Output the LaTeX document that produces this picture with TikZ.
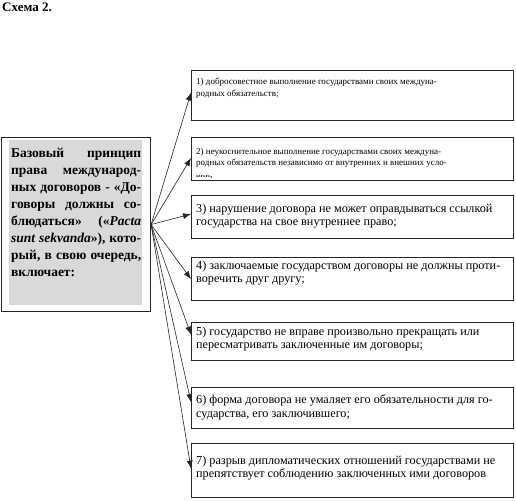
\documentclass[tikz,border=0pt]{standalone}
\usepackage{fontspec}
\setmainfont{Liberation Serif}
\usetikzlibrary{arrows.meta}
\newcommand{\jline}[1]{\makebox[130pt][s]{\spaceskip=.25em plus 20em\relax #1}}
\begin{document}
\begin{tikzpicture}[x=1pt,y=-1pt,
  box/.style={draw=black!85,line width=1.1pt,fill=white,minimum width=322pt,anchor=north west,inner sep=0pt},
  smalltxt/.style={anchor=north west,inner sep=0pt,align=left,font=\fontsize{9}{11.5}\selectfont},
  bigtxt/.style={anchor=north west,inner sep=0pt,align=left,font=\fontsize{12.2}{13.2}\selectfont},
  arr/.style={draw=black!85,line width=0.6pt,-{Latex[length=8pt,width=6pt]}}]
\useasboundingbox (0,0) rectangle (516,500);
\node[anchor=base west,inner sep=0pt,font=\bfseries\fontsize{13}{15}\selectfont] (title) at (2,12) {Схема 2.};
% left box
\node[draw=black!85,line width=1.1pt,fill=white,anchor=north west,minimum width=149pt,minimum height=174pt,inner sep=0pt] (L) at (1,137) {};
\node[fill=black!15,anchor=north west,minimum width=133pt,minimum height=165pt,inner sep=0pt] (Lg) at (9,140) {};
\node[anchor=north west,inner sep=0pt,text width=130pt,align=left,font=\bfseries\fontsize{13.5}{17}\selectfont] (Lt) at (11,148) {%
\jline{Базовый принцип}\\
\jline{права международ-}\\
\jline{ных договоров - «До-}\\
\jline{говоры должны со-}\\
\jline{блюдаться» («\textit{Pacta}}\\
\jline{\textit{sunt sekvanda}»), кото-}\\
\jline{рый, в свою очередь,}\\
включает:};
% right boxes
\node[box,minimum height=50pt] (b1) at (191,70) {};
\node[box,minimum height=43pt] (b2) at (191,137) {};
\node[box,minimum height=43pt] (b3) at (191,195) {};
\node[box,minimum height=43pt] (b4) at (191,257) {};
\node[box,minimum height=38pt] (b5) at (191,322) {};
\node[box,minimum height=41pt] (b6) at (191,387) {};
\node[box,minimum height=54pt] (b7) at (191,443) {};
\node[smalltxt] (t1) at (196,78) {1) добросовестное выполнение государствами своих междуна-\\родных обязательств;};
\node[smalltxt] (t2) at (196,148) {2) неукоснительное выполнение государствами своих междуна-\\родных обязательств независимо от внутренних и внешних усло-};
\begin{scope}
\clip (192,175.3) rectangle (512,177.6);
\node[anchor=base west,inner sep=0pt,font=\fontsize{9}{11}\selectfont] (t2b) at (196,177.6) {вий;};
\end{scope}
\node[bigtxt] (t3) at (196,204) {3) нарушение договора не может оправдываться ссылкой\\государства на свое внутреннее право;};
\node[bigtxt] (t4) at (196,261) {4) заключаемые государством договоры не должны проти-\\воречить друг другу;};
\node[bigtxt] (t5) at (196,327) {5) государство не вправе произвольно прекращать или\\пересматривать заключенные им договоры;};
\node[bigtxt] (t6) at (196,395) {6) форма договора не умаляет его обязательности для го-\\сударства, его заключившего;};
\node[bigtxt] (t7) at (196,456) {7) разрыв дипломатических отношений государствами не\\препятствует соблюдению заключенных ими договоров};
% arrows
\draw[arr] (L.east) -- ([yshift=3pt]b1.west);
\draw[arr] (L.east) -- ([yshift=1pt]b2.west);
\draw[arr] (L.east) -- ([yshift=3pt]b3.west);
\draw[arr] (L.east) -- (b4.west);
\draw[arr] (L.east) -- ([yshift=7pt]b5.west);
\draw[arr] (L.east) -- ([yshift=6pt]b6.west);
\draw[arr] (L.east) -- ([yshift=2pt]b7.west);
\end{tikzpicture}
\end{document}
